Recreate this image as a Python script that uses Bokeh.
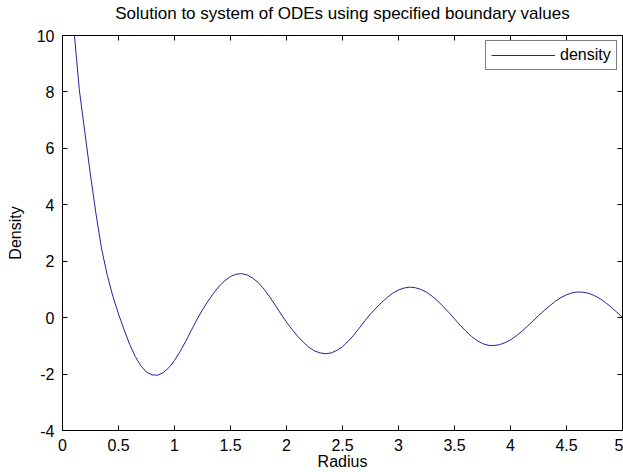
from bokeh.plotting import figure
from bokeh.models import Range1d, LinearAxis, FixedTicker, Legend, LegendItem, CustomJSTickFormatter
from bokeh.embed import file_html
from bokeh.resources import INLINE

# Data
radius = [0.10, 0.15, 0.20, 0.25, 0.30, 0.35, 0.40, 0.45, 0.50, 0.55,
          0.60, 0.65, 0.70, 0.75, 0.80, 0.85, 0.90, 0.95, 1.00, 1.05,
          1.10, 1.15, 1.20, 1.25, 1.30, 1.35, 1.40, 1.45, 1.50, 1.55,
          1.60, 1.65, 1.70, 1.75, 1.80, 1.85, 1.90, 1.95, 2.00, 2.05,
          2.10, 2.15, 2.20, 2.25, 2.30, 2.35, 2.40, 2.45, 2.50, 2.55,
          2.60, 2.65, 2.70, 2.75, 2.80, 2.85, 2.90, 2.95, 3.00, 3.05,
          3.10, 3.15, 3.20, 3.25, 3.30, 3.35, 3.40, 3.45, 3.50, 3.55,
          3.60, 3.65, 3.70, 3.75, 3.80, 3.85, 3.90, 3.95, 4.00, 4.05,
          4.10, 4.15, 4.20, 4.25, 4.30, 4.35, 4.40, 4.45, 4.50, 4.55,
          4.60, 4.65, 4.70, 4.75, 4.80, 4.85, 4.90, 4.95, 5.00]
density = [10.3, 8.08, 6.55, 5.05, 3.65, 2.42, 1.50, 0.75, 0.13, -0.43,
           -0.95, -1.38, -1.71, -1.93, -2.03, -2.04, -1.95, -1.77, -1.52, -1.20,
           -0.84, -0.45, -0.07, 0.28, 0.59, 0.87, 1.12, 1.31, 1.46, 1.54,
           1.56, 1.51, 1.40, 1.23, 1.01, 0.74, 0.44, 0.13, -0.16, -0.42,
           -0.66, -0.87, -1.05, -1.18, -1.25, -1.28, -1.25, -1.16, -1.03, -0.84,
           -0.62, -0.37, -0.11, 0.13, 0.34, 0.54, 0.72, 0.87, 0.98, 1.05,
           1.08, 1.06, 1.00, 0.90, 0.76, 0.59, 0.39, 0.18, -0.04, -0.27,
           -0.47, -0.66, -0.81, -0.92, -0.98, -0.99, -0.96, -0.89, -0.79, -0.65,
           -0.49, -0.31, -0.12, 0.07, 0.25, 0.42, 0.58, 0.71, 0.81, 0.88,
           0.91, 0.90, 0.86, 0.78, 0.67, 0.53, 0.37, 0.19, 0.00]

x_ticks = [0, 0.5, 1, 1.5, 2, 2.5, 3, 3.5, 4, 4.5, 5]
x_tick_labels = ["0", "0.5", "1", "1.5", "2", "2.5", "3", "3.5", "4", "4.5", "5"]
y_ticks = [-4, -2, 0, 2, 4, 6, 8, 10]
y_tick_labels = ["-4", "-2", "0", "2", "4", "6", "8", "10"]
title_text = "Solution to system of ODEs using specified boundary values"

FONT = "Liberation Sans"
FS = "16px"

p = figure(width=623, height=472, output_backend="svg", toolbar_location=None,
           x_range=Range1d(0, 5), y_range=Range1d(-4, 10),
           x_axis_label="Radius", y_axis_label="Density",
           min_border_left=62, min_border_right=1, min_border_top=34, min_border_bottom=40)

p.background_fill_color = "white"
p.border_fill_color = "white"
p.outline_line_color = "black"
p.outline_line_width = 1
p.xgrid.visible = False
p.ygrid.visible = False

def style_axis(ax):
    ax.axis_line_color = "black"
    ax.major_tick_line_color = "black"
    ax.major_tick_in = 5
    ax.major_tick_out = 0
    ax.minor_tick_line_color = None
    ax.major_label_text_font = FONT
    ax.major_label_text_font_size = FS
    ax.major_label_text_color = "black"
    ax.axis_label_text_font = FONT
    ax.axis_label_text_font_size = FS
    ax.axis_label_text_font_style = "normal"
    ax.axis_label_text_color = "black"

xa = p.xaxis[0]
xa.ticker = FixedTicker(ticks=x_ticks)
xa.major_label_overrides = {t: l for t, l in zip(x_ticks, x_tick_labels)}
style_axis(xa)
xa.major_label_standoff = 8
xa.axis_label_standoff = -1
xa.major_label_text_line_height = 1.0
xa.axis_label_text_line_height = 1.0

ya = p.yaxis[0]
ya.ticker = FixedTicker(ticks=y_ticks)
ya.major_label_overrides = {t: l for t, l in zip(y_ticks, y_tick_labels)}
style_axis(ya)
ya.major_label_standoff = 8
ya.axis_label_standoff = 10

# top axis: inward ticks, chart title as its label
top = LinearAxis(ticker=FixedTicker(ticks=x_ticks), formatter=CustomJSTickFormatter(code="return ''"),
                 axis_label=title_text)
style_axis(top)
top.major_label_text_font_size = "0px"
top.major_label_standoff = 0
top.axis_label_text_font_size = "17px"
top.axis_label_standoff = 13
p.add_layout(top, "above")

right = LinearAxis(ticker=FixedTicker(ticks=y_ticks), formatter=CustomJSTickFormatter(code="return ''"))
style_axis(right)
right.major_label_text_font_size = "0px"
right.major_label_standoff = 0
p.add_layout(right, "right")

r = p.line(radius, density, line_color="#22229a", line_width=1)

legend = Legend(items=[LegendItem(label="density", renderers=[r])],
                location=(423, 360), margin=0, padding=5,
                glyph_width=64, glyph_height=16, label_height=16,
                label_standoff=5, spacing=0,
                border_line_color="black", border_line_width=1,
                background_fill_color="white", background_fill_alpha=1,
                label_text_font=FONT, label_text_font_size=FS, label_text_color="black")
p.add_layout(legend)

open("out.html", "w").write(file_html(p, INLINE))
